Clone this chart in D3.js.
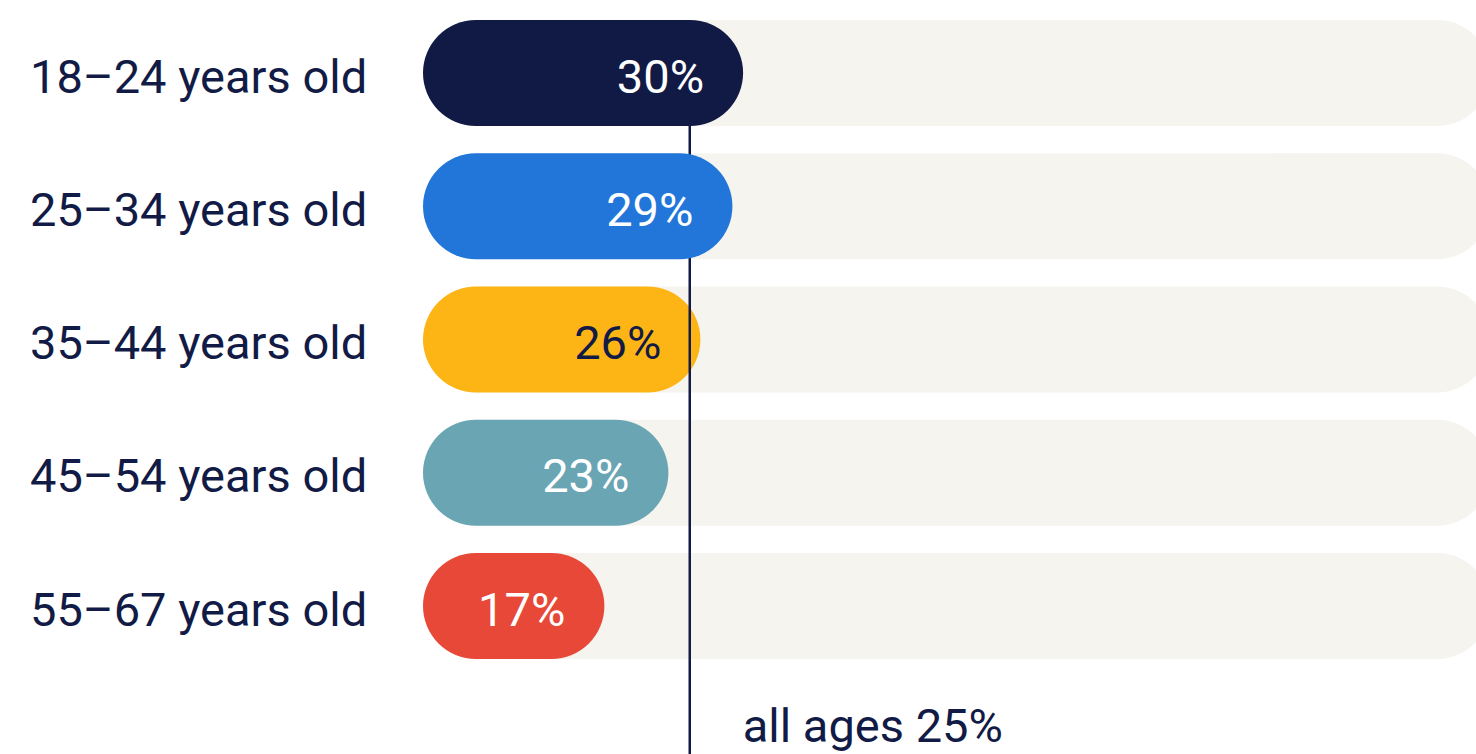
<!DOCTYPE html>
<html>
<head>
<meta charset="utf-8">
<script src="https://cdn.jsdelivr.net/npm/d3@7/dist/d3.min.js"></script>
<style>
  html, body { margin: 0; padding: 0; background: #ffffff; }
  svg { display: block; }
  text { font-family: Roboto, "Noto Sans", sans-serif; }
</style>
</head>
<body>
<svg id="chart" width="1476" height="754"></svg>
<script>
// Share of respondents by age group
const categories = ["18–24 years old", "25–34 years old", "35–44 years old", "45–54 years old", "55–67 years old"];
const values = [30, 29, 26, 23, 17];
const barColors = ["#111a44", "#2276d9", "#fdb515", "#6aa5b4", "#e74838"];
const valueTextColors = ["#ffffff", "#ffffff", "#121b45", "#ffffff", "#ffffff"];
const overallValue = 25;
const overallLabel = "all ages 25%";
const maxValue = 100;

const navy = "#121b45";
const trackColor = "#f5f4ef";

const svg = d3.select("#chart");
const width = 1476, height = 754;

const x = d3.scaleLinear().domain([0, maxValue]).range([423, 1490]);
const y = d3.scaleBand().domain(categories).range([20, 659]).paddingInner(0.2045).paddingOuter(0);
const bh = y.bandwidth();
const r = bh / 2;

const rows = categories.map((c, i) => ({ cat: c, value: values[i], color: barColors[i], tcolor: valueTextColors[i], i }));

// background tracks
svg.append("g").selectAll("rect")
  .data(rows).join("rect")
  .attr("x", x(0))
  .attr("y", d => y(d.cat))
  .attr("width", x(maxValue) - x(0))
  .attr("height", bh)
  .attr("rx", r).attr("ry", r)
  .attr("fill", trackColor);

const barLayer = svg.append("g");

// reference line for all ages
svg.append("line")
  .attr("x1", x(overallValue)).attr("x2", x(overallValue))
  .attr("y1", y(categories[0])).attr("y2", height)
  .attr("stroke", navy)
  .attr("stroke-width", 2.5);

// value bars
const bars = barLayer.selectAll("rect")
  .data(rows).join("rect")
  .attr("x", x(0))
  .attr("y", d => y(d.cat))
  .attr("width", d => x(d.value) - x(0))
  .attr("height", bh)
  .attr("rx", r).attr("ry", r)
  .attr("fill", d => d.color);

// the two widest bars sit above the reference line
const topLayer = svg.append("g");
bars.filter(d => d.i < 2).each(function() { topLayer.node().appendChild(this); });

// value labels
svg.append("g").selectAll("text")
  .data(rows).join("text")
  .attr("x", d => x(d.value) - 39)
  .attr("y", d => y(d.cat) + bh / 2)
  .attr("dy", "0.42em")
  .attr("text-anchor", "end")
  .attr("font-size", 47)
  .attr("fill", d => d.tcolor)
  .text(d => d.value + "%");

// category labels
svg.append("g").selectAll("text")
  .data(rows).join("text")
  .attr("x", 30)
  .attr("y", d => y(d.cat) + bh / 2)
  .attr("dy", "0.42em")
  .attr("font-size", 47)
  .attr("fill", navy)
  .text(d => d.cat);

// overall label
svg.append("text")
  .attr("x", x(overallValue) + 53)
  .attr("y", 742)
  .attr("font-size", 47)
  .attr("fill", navy)
  .text(overallLabel);
</script>
</body>
</html>
